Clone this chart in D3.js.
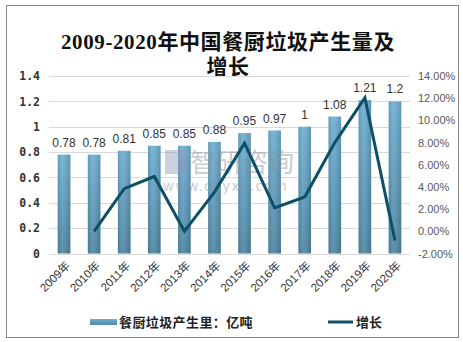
<!DOCTYPE html>
<html><head><meta charset="utf-8">
<script src="https://cdn.jsdelivr.net/npm/d3@7"></script>
<style>body{margin:0;background:#fff}svg{display:block}</style>
</head><body>
<svg id="c" width="463" height="342"></svg>
<script>
const years = ["2009年","2010年","2011年","2012年","2013年","2014年","2015年","2016年","2017年","2018年","2019年","2020年"];
const amount = [0.78,0.78,0.81,0.85,0.85,0.88,0.95,0.97,1,1.08,1.21,1.2];
const growthYears = ["2010年","2011年","2012年","2013年","2014年","2015年","2016年","2017年","2018年","2019年","2020年"];
const growth = [0.0,3.85,4.94,0.0,3.53,7.95,2.11,3.09,8.0,12.04,-0.83];
const leftTicks = [0,0.2,0.4,0.6,0.8,1,1.2,1.4];
const rightTicks = [-2,0,2,4,6,8,10,12,14];

const svg = d3.select("#c");
const L=49, R=410, T=76, B=253.5;
const x = d3.scaleBand().domain(years).range([L,R]).paddingInner(0.58).paddingOuter(0.29);
const y = d3.scaleLinear().domain([0,1.4]).range([B,T]);
const y2 = d3.scaleLinear().domain([-2,14]).range([B,T]);

svg.append("rect").attr("x",6.5).attr("y",5.5).attr("width",452).attr("height",332)
  .attr("fill","#fff").attr("stroke","#888").attr("stroke-width",1);

const defs = svg.append("defs");
const g1 = defs.append("linearGradient").attr("id","bg").attr("x1",0).attr("x2",0).attr("y1",0).attr("y2",1);
g1.append("stop").attr("offset","0%").attr("stop-color","#6fb0d2");
g1.append("stop").attr("offset","100%").attr("stop-color","#4f87a4");
const g2 = defs.append("linearGradient").attr("id","bh").attr("x1",0).attr("x2",1).attr("y1",0).attr("y2",0);
g2.append("stop").attr("offset","0%").attr("stop-color","#000").attr("stop-opacity",0.12);
g2.append("stop").attr("offset","35%").attr("stop-color","#fff").attr("stop-opacity",0.08);
g2.append("stop").attr("offset","100%").attr("stop-color","#000").attr("stop-opacity",0.15);

// title
const title = svg.append("g").attr("font-family","'Liberation Serif','Noto Sans CJK SC',serif")
  .attr("font-weight","bold").attr("font-size",21).attr("fill","#111").attr("text-anchor","middle");
title.append("text").attr("x",228).attr("y",49).attr("letter-spacing",0.6).text("2009-2020年中国餐厨垃圾产生量及");
title.append("text").attr("x",228).attr("y",74).attr("letter-spacing",0.6).text("增长");

// gridlines
svg.append("g").selectAll("line").data(leftTicks).join("line")
  .attr("x1",L).attr("x2",R).attr("y1",d=>Math.round(y(d))+0.5).attr("y2",d=>Math.round(y(d))+0.5)
  .attr("stroke","#d9d9d9").attr("stroke-width",1);

// left axis
const ax = d3.axisLeft(y).tickValues(leftTicks).tickSize(0).tickPadding(0).tickFormat(d=>String(d));
const gl = svg.append("g").attr("transform","translate(40,0)").call(ax);
gl.select(".domain").remove();
gl.selectAll("text").attr("font-family","'DejaVu Sans Mono','Liberation Mono',monospace").attr("font-weight","bold")
  .attr("font-size",11.5).attr("fill","#333");

// right axis
const ar = d3.axisRight(y2).tickValues(rightTicks).tickSize(0).tickPadding(0).tickFormat(d=>d.toFixed(2)+"%");
const gr = svg.append("g").attr("transform","translate(418,0)").call(ar);
gr.select(".domain").remove();
gr.selectAll("text").attr("font-family","'Liberation Sans',Arial,sans-serif").attr("font-size",11).attr("fill","#595959");

// bars
svg.append("g").selectAll("rect").data(amount).join("rect")
  .attr("x",(d,i)=>x(years[i])).attr("width",x.bandwidth())
  .attr("y",d=>y(d)).attr("height",d=>B-y(d)).attr("fill","url(#bg)");
svg.append("g").selectAll("rect").data(amount).join("rect")
  .attr("x",(d,i)=>x(years[i])).attr("width",x.bandwidth())
  .attr("y",d=>y(d)).attr("height",d=>B-y(d)).attr("fill","url(#bh)");

// watermark
const wm = svg.append("g").attr("opacity",0.45).attr("fill","#8a8f99");
wm.append("rect").attr("x",165).attr("y",150).attr("width",22).attr("height",24).attr("fill","#8d99b8");
wm.append("text").attr("x",190).attr("y",172).attr("font-family","'Noto Sans CJK SC',sans-serif").attr("font-size",26).text("智研咨询");
wm.append("text").attr("x",163).attr("y",191).attr("font-family","'DejaVu Sans',sans-serif").attr("font-size",13.5).attr("letter-spacing",1.2).text("www.chyxx.com");

// bar labels
svg.append("g").selectAll("text").data(amount).join("text")
  .attr("x",(d,i)=>x(years[i])+x.bandwidth()/2).attr("y",d=>y(d)-8)
  .attr("text-anchor","middle").attr("font-family","'Liberation Sans',Arial,sans-serif")
  .attr("font-size",12).attr("fill","#333").text(d=>String(d));

// line
const line = d3.line().x((d,i)=>x(growthYears[i])+x.bandwidth()/2).y(d=>y2(d));
svg.append("path").datum(growth).attr("d",line).attr("fill","none")
  .attr("stroke","#0d4f66").attr("stroke-width",3).attr("stroke-linejoin","miter");

// x labels
svg.append("g").selectAll("text").data(years).join("text")
  .attr("transform",d=>`translate(${x(d)+x.bandwidth()/2+4},${B+10}) rotate(-45)`)
  .attr("text-anchor","end").attr("dy","0.35em")
  .attr("font-family","'Liberation Sans','Noto Sans CJK SC',sans-serif").attr("font-size",11.5)
  .attr("fill","#333").text(d=>d);

// legend
const lg = svg.append("g").attr("font-family","'Noto Sans CJK SC',sans-serif").attr("font-weight","bold").attr("font-size",13).attr("fill","#222");
lg.append("rect").attr("x",90).attr("y",319).attr("width",27).attr("height",6).attr("fill","url(#bg)");
lg.append("text").attr("x",119).attr("y",327).attr("letter-spacing",0.4).text("餐厨垃圾产生里：亿吨");
lg.append("line").attr("x1",328).attr("x2",353).attr("y1",322).attr("y2",322).attr("stroke","#0d4f66").attr("stroke-width",3);
lg.append("text").attr("x",356).attr("y",327).text("增长");
</script>
</body></html>
